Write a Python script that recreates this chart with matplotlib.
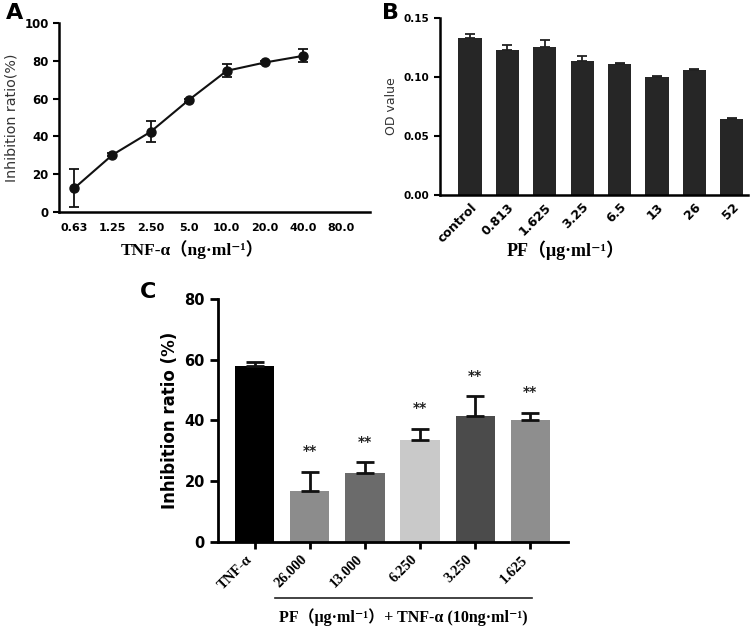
import matplotlib
matplotlib.use('Agg')
import matplotlib.pyplot as plt
import matplotlib.transforms as mtransforms
import numpy as np

# Panel A: TNF-alpha dose response
a_labels = ['0.63', '1.25', '2.50', '5.0', '10.0', '20.0', '40.0', '80.0']
a_values = [12.6, 30.2, 42.4, 59.2, 74.7, 79.1, 82.6]
a_err = [10.0, 0.8, 5.5, 0.8, 3.5, 0.8, 3.4]

# Panel B: OD value for PF concentrations
b_labels = ['control', '0.813', '1.625', '3.25', '6.5', '13', '26', '52']
b_values = [0.133, 0.1228, 0.1251, 0.1138, 0.1112, 0.0999, 0.1061, 0.064]
b_err = [0.0034, 0.0045, 0.006, 0.0042, 0.001, 0.001, 0.001, 0.001]

# Panel C: inhibition ratio with PF + TNF-alpha
c_labels = ['TNF-α', '26.000', '13.000', '6.250', '3.250', '1.625']
c_values = [57.8, 16.9, 22.8, 33.6, 41.4, 40.0]
c_err = [1.6, 6.1, 3.4, 3.7, 6.6, 2.5]
c_stars = ['', '**', '**', '**', '**', '**']
c_colors = ['#000000', '#8c8c8c', '#6b6b6b', '#c9c9c9', '#4b4b4b', '#8e8e8e']

sans = ['DejaVu Sans']
serif = ['Liberation Serif', 'DejaVu Serif', 'Noto Sans CJK SC']

plt.rcParams['font.family'] = sans
plt.rcParams['font.weight'] = 'bold'

fig = plt.figure(figsize=(7.5, 6.3), dpi=100)

# ---------- A ----------
axA = fig.add_axes([0.0787, 0.6635, 0.4143, 0.300])
xa = np.arange(len(a_values))
axA.errorbar(xa, a_values, yerr=a_err, color='#111111', marker='o', markersize=6.5,
             linewidth=1.5, capsize=3.6, elinewidth=1.3, capthick=1.3)
axA.set_xlim(-0.4, 7.75)
axA.set_ylim(0, 100)
axA.set_yticks([0, 20, 40, 60, 80, 100])
axA.set_xticks(np.arange(len(a_labels)))
axA.set_xticklabels(a_labels)
axA.tick_params(axis='x', length=0, pad=8, labelsize=8)
axA.tick_params(axis='y', length=4, width=1.5, labelsize=8.5)
axA.spines[['top', 'right']].set_visible(False)
axA.spines[['left', 'bottom']].set_linewidth(1.8)
axA.set_ylabel('Inhibition ratio(%)', fontsize=10.3, fontweight='normal', color='#333333')
axA.text(0.43, -0.20, 'TNF-α（ng·ml⁻¹）', transform=axA.transAxes, ha='center', va='center',
         family=serif, fontsize=12.5, fontweight='bold')
fig.text(0.008, 0.995, 'A', fontsize=16, fontweight='bold', va='top')

# ---------- B ----------
axB = fig.add_axes([0.5867, 0.6905, 0.410, 0.281])
xb = np.arange(len(b_values))
axB.bar(xb, b_values, width=0.62, color='#262626',
        yerr=[np.zeros(len(b_err)), b_err], capsize=3.5,
        error_kw=dict(elinewidth=1.3, capthick=1.3, ecolor='#222222'))
axB.set_xlim(-0.8, 7.42)
axB.set_ylim(0, 0.15)
axB.set_yticks([0.00, 0.05, 0.10, 0.15])
axB.set_yticklabels(['0.00', '0.05', '0.10', '0.15'])
axB.set_xticks(xb)
axB.set_xticklabels(b_labels, rotation=45, ha='right', rotation_mode='anchor')
axB.tick_params(axis='x', length=0, pad=4, labelsize=9)
axB.tick_params(axis='y', length=4, width=1.5, labelsize=7.5)
axB.spines[['top', 'right']].set_visible(False)
axB.spines[['left', 'bottom']].set_linewidth(1.8)
axB.set_ylabel('OD value', fontsize=9, fontweight='normal', color='#333333')
axB.text(0.41, -0.31, 'PF（μg·ml⁻¹）', transform=axB.transAxes, ha='center', va='center',
         family=serif, fontsize=13, fontweight='bold')
fig.text(0.51, 0.995, 'B', fontsize=16, fontweight='bold', va='top')

# ---------- C ----------
axC = fig.add_axes([0.2907, 0.1397, 0.4667, 0.3857])
xc = np.arange(len(c_values))
axC.bar(xc, c_values, width=0.71, color=c_colors,
        yerr=[np.zeros(len(c_err)), c_err], capsize=6.5,
        error_kw=dict(elinewidth=2, capthick=2, ecolor='#111111'))
for i, s in enumerate(c_stars):
    if s:
        axC.text(xc[i], c_values[i] + c_err[i] + 4.5, s, ha='center', va='bottom',
                 fontsize=10, fontweight='bold', color='#222222')
axC.set_xlim(-0.67, 5.69)
axC.set_ylim(0, 80)
axC.set_yticks([0, 20, 40, 60, 80])
axC.set_xticks(xc)
axC.set_xticklabels(c_labels, rotation=45, ha='right', rotation_mode='anchor',
                    family=serif, fontsize=10.5, fontweight='bold')
axC.tick_params(axis='x', length=5, width=2, pad=3)
axC.tick_params(axis='y', length=6, width=2, labelsize=10.5)
# nudge rotated labels left so they end just under the ticks
shift = mtransforms.ScaledTranslation(-0.09, 0, fig.dpi_scale_trans)
for lab in axC.get_xticklabels():
    lab.set_transform(lab.get_transform() + shift)
axC.spines[['top', 'right']].set_visible(False)
axC.spines[['left', 'bottom']].set_linewidth(2)
axC.set_ylabel('Inhibition ratio (%)', fontsize=12, fontweight='bold', labelpad=4)

# group line and label below PF bars
trans = axC.get_xaxis_transform()
axC.plot([0.37, 5.04], [-0.23, -0.23], transform=trans, color='#222222',
         linewidth=1.2, clip_on=False)
axC.text((0.37 + 5.04) / 2, -0.31, 'PF（μg·ml⁻¹）+ TNF-α (10ng·ml⁻¹)', transform=trans,
         ha='center', va='center', family=serif, fontsize=11.5, fontweight='bold')
fig.text(0.186, 0.553, 'C', fontsize=16, fontweight='bold', va='top')

fig.savefig('out.png', dpi=100)
